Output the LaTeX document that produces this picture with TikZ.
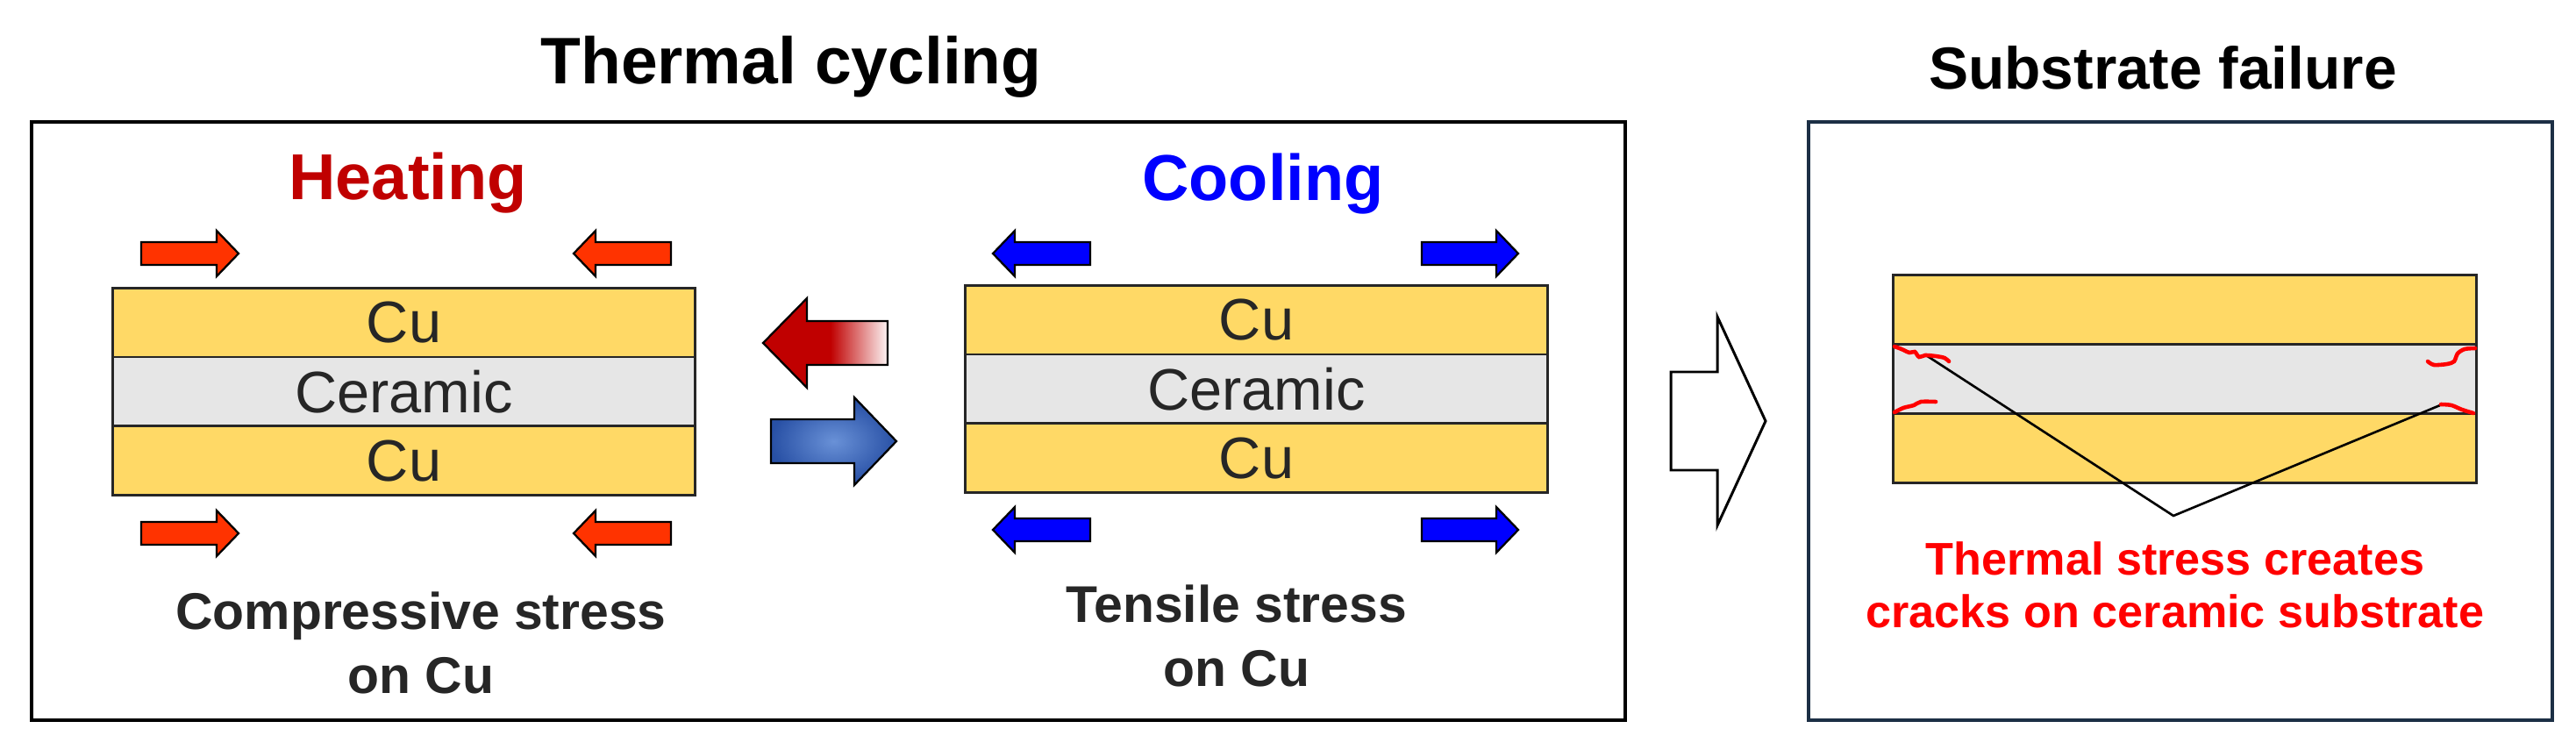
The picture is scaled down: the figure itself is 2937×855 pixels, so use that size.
\documentclass[tikz,border=0pt]{standalone}
\usepackage{fontspec}
\setmainfont{Liberation Sans}
\usetikzlibrary{positioning}
\definecolor{cuyellow}{HTML}{FFD966}
\definecolor{ceramgray}{HTML}{E6E6E6}
\definecolor{heatred}{HTML}{C00000}
\definecolor{arrowred}{HTML}{FF3300}
\definecolor{coolblue}{HTML}{0000FF}
\definecolor{framenavy}{HTML}{1C2F45}
\definecolor{inkgray}{HTML}{262626}
\pgfdeclarehorizontalshading{heatfade}{100bp}{color(0bp)=(heatred); color(52bp)=(heatred); color(75bp)=(heatred!4); color(100bp)=(heatred!4)}

\begin{document}
\begin{tikzpicture}[x=0.02cm,y=-0.02cm,
  layer/.style={draw=inkgray,line width=1.7pt,minimum width=13.3cm,minimum height=1.58cm,inner sep=0pt,outer sep=0pt,text=inkgray,font=\fontsize{38}{40}\selectfont},
  cu/.style={layer,fill=cuyellow},
  ceram/.style={layer,fill=ceramgray},
  title/.style={anchor=base,inner sep=0pt,font=\bfseries\fontsize{42.7}{48}\selectfont},
  stress/.style={anchor=north,align=center,inner sep=0pt,text=inkgray,font=\bfseries\fontsize{33.5}{42}\selectfont},
  blk/.style={draw=black,line width=1.3pt,line join=miter},
  pics/blockarr/.style args={#1/#2/#3/#4}{code={
    \path[pic actions] (0,-#2) -- (#3,-#2) -- (#3,-#4) -- (#1,0) -- (#3,#4) -- (#3,#2) -- (0,#2) -- cycle;}}]
\useasboundingbox (0,0) rectangle (2937,855);

\node[title] (tcyc) at (902,95) {Thermal cycling};
\node[title,font=\bfseries\fontsize{38.5}{44}\selectfont] (sfail) at (2466,102) {Substrate failure};
\draw[line width=2.3pt] (36,139) rectangle (1853,821);
\draw[framenavy,line width=2.3pt] (2062,139) rectangle (2910,821);

\node[title,text=heatred,font=\bfseries\fontsize{42.1}{48}\selectfont] (heat) at (465,227) {Heating};
\node[title,text=coolblue,font=\bfseries\fontsize{42.1}{48}\selectfont] (cool) at (1440,228) {Cooling};

\node[cu] (hcu1) at (460.5,367.5) {Cu};
\node[ceram,below=0pt of hcu1] (hcer) {Ceramic};
\node[cu,below=0pt of hcer] (hcu2) {Cu};

\node[cu] (ccu1) at (1432.5,364.5) {Cu};
\node[ceram,below=0pt of ccu1] (ccer) {Ceramic};
\node[cu,below=0pt of ccer] (ccu2) {Cu};

\node[cu] (fcu1) at (2491,353) {};
\node[ceram,below=0pt of fcu1] (fcer) {};
\node[cu,below=0pt of fcer] (fcu2) {};

\foreach \yy in {289,608} {
  \pic[blk,fill=arrowred] at (161,\yy) {blockarr=111/13/86/26};
  \pic[blk,fill=arrowred] at (765,\yy) {blockarr=-111/13/-86/26};
}
\foreach \yy in {289,604} {
  \pic[blk,fill=coolblue] at (1243,\yy) {blockarr=-111/13/-86/26};
  \pic[blk,fill=coolblue] at (1621,\yy) {blockarr=110/13/85/26};
}

\pic[blk,shading=heatfade] at (1012,391) {blockarr=-142/25/-92/51};
\pic[blk,inner color={rgb,255:red,105;green,145;blue,215},outer color={rgb,255:red,40;green,80;blue,165}] at (879,503) {blockarr=143/25/95/50};
\pic[draw=black,line width=1.7pt,fill=white] at (1905,480) {blockarr=108/56/53/119};

\node[stress] (comp) at (480,674) {Compressive stress\\on Cu};
\node[stress] (tens) at (1410,666) {Tensile stress\\on Cu};
\node[stress,text=red,font=\bfseries\fontsize{29.7}{34.1}\selectfont] (note) at (2480,617) {Thermal stress creates\\cracks on ceramic substrate};

\coordinate (crackl) at (2196,405);
\coordinate (crackr) at (2782,462);
\coordinate (vtip) at (2478,588);
\draw[line width=1.5pt] (crackl) -- (vtip) -- (crackr);

\begin{scope}[red,line width=2.6pt,line cap=round]
\draw plot[smooth] coordinates {(2160,395) (2168,398) (2177,402) (2183,401) (2188,407) (2195,405) (2207,406) (2217,408) (2222,412)};
\draw plot[smooth] coordinates {(2160,470) (2170,465) (2182,462) (2190,458) (2207,458)};
\draw plot[smooth] coordinates {(2822,397) (2810,398) (2802,403) (2798,412) (2790,415) (2775,416) (2768,412)};
\draw plot[smooth] coordinates {(2783,461) (2795,462) (2807,467) (2820,471)};
\end{scope}
\end{tikzpicture}
\end{document}
